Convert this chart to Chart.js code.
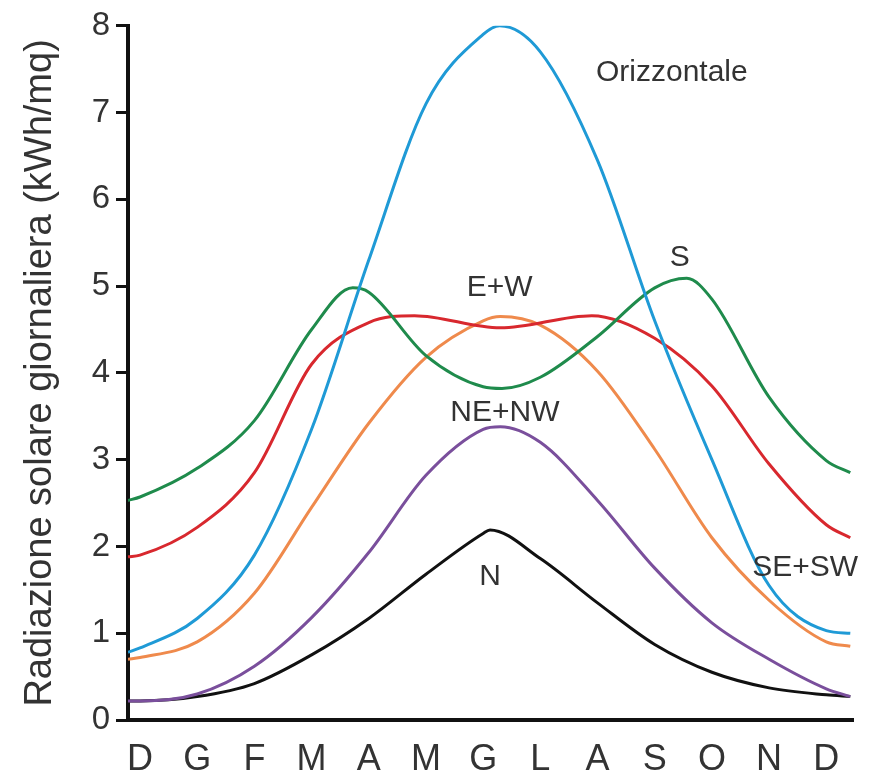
<!DOCTYPE html>
<html>
<head>
<meta charset="utf-8">
<script src="https://cdn.jsdelivr.net/npm/chart.js@4"></script>
<style>
  body { margin: 0; background: #fff; }
  #wrap { width: 885px; height: 784px; }
</style>
</head>
<body>
<div id="wrap"><canvas id="solarChart"></canvas></div>
<script>
// mesi (da dicembre a dicembre)
const months = ['D', 'G', 'F', 'M', 'A', 'M', 'G', 'L', 'A', 'S', 'O', 'N', 'D'];
const yTicks = [0, 1, 2, 3, 4, 5, 6, 7, 8];

// posizione sull'asse dei mesi (0 = D, 12 = D) e valori (kWh/mq)
const xOriz = [-0.21, 0, 1, 2, 3, 4, 5, 6, 6.29, 7, 8, 9, 10, 11, 12, 12.42];
const yOriz = [0.78, 0.83, 1.17, 1.9, 3.35, 5.3, 7.1, 7.9, 8.0, 7.7, 6.45, 4.6, 3.0, 1.55, 1.03, 1.0];

const xS = [-0.21, 0, 1, 2, 3, 3.72, 4, 5, 6, 6.33, 7, 8, 9, 9.56, 10, 11, 12, 12.42];
const yS = [2.53, 2.57, 2.9, 3.45, 4.5, 4.98, 4.93, 4.2, 3.84, 3.82, 3.95, 4.42, 4.98, 5.09, 4.85, 3.72, 2.99, 2.85];

const xSESW = [-0.21, 0, 1, 2, 3, 4, 4.8, 6.3, 7.9, 9, 10, 11, 12, 12.42];
const ySESW = [1.88, 1.9, 2.22, 2.85, 4.1, 4.58, 4.66, 4.52, 4.66, 4.4, 3.85, 2.95, 2.25, 2.1];

const xEW = [-0.21, 0, 1, 2, 3, 4, 5, 6, 6.3, 7, 8, 9, 10, 11, 12, 12.42];
const yEW = [0.7, 0.72, 0.9, 1.46, 2.45, 3.42, 4.18, 4.6, 4.65, 4.55, 4.02, 3.12, 2.1, 1.38, 0.9, 0.85];

const xNENW = [-0.21, 0, 1, 2, 3, 4, 5, 6, 6.3, 7, 8, 9, 10, 11, 12, 12.42];
const yNENW = [0.22, 0.22, 0.3, 0.62, 1.18, 1.93, 2.82, 3.35, 3.38, 3.2, 2.53, 1.75, 1.12, 0.7, 0.36, 0.27];

const xN = [-0.21, 0, 1, 2, 3, 4, 5, 6, 6.12, 7, 8, 9, 10, 11, 12, 12.42];
const yN = [0.22, 0.22, 0.27, 0.42, 0.75, 1.17, 1.68, 2.15, 2.19, 1.86, 1.35, 0.87, 0.55, 0.37, 0.29, 0.27];

const seriesNames = ['Orizzontale', 'S', 'SE+SW', 'E+W', 'NE+NW', 'N'];
const seriesX = [xOriz, xS, xSESW, xEW, xNENW, xN];
const seriesY = [yOriz, yS, ySESW, yEW, yNENW, yN];
const seriesColors = ['#1f9ad6', '#1f8b4c', '#d8282e', '#ef8a4c', '#7a4f9c', '#111111'];

// etichette delle curve (testo, mese, valore)
const curveLabels = [
  ['Orizzontale', 9.3, 7.46],
  ['S', 9.44, 5.33],
  ['E+W', 6.29, 4.98],
  ['NE+NW', 6.38, 3.54],
  ['N', 6.12, 1.65],
  ['SE+SW', 11.63, 1.75]
];

const curveLabelPlugin = {
  id: 'curveLabels',
  afterDatasetsDraw(chart) {
    const { ctx, scales: { x, y } } = chart;
    ctx.save();
    ctx.font = '30px "Liberation Sans", Arial, sans-serif';
    ctx.fillStyle = '#333';
    ctx.textAlign = 'center';
    ctx.textBaseline = 'middle';
    curveLabels.forEach(([txt, mx, my]) => {
      ctx.fillText(txt, x.getPixelForValue(mx), y.getPixelForValue(my));
    });
    ctx.restore();
  }
};

const ctx = document.getElementById('solarChart').getContext('2d');
new Chart(ctx, {
  type: 'line',
  data: {
    datasets: seriesNames.map((name, k) => ({
      label: name,
      data: seriesX[k].map((xv, j) => ({ x: xv, y: seriesY[k][j] })),
      borderColor: seriesColors[k],
      borderWidth: 3,
      pointRadius: 0,
      fill: false,
      cubicInterpolationMode: 'monotone'
    }))
  },
  options: {
    responsive: true,
    maintainAspectRatio: false,
    animation: false,
    layout: { padding: { top: 25, right: 33, left: 0, bottom: 0 } },
    plugins: {
      legend: { display: false },
      tooltip: { enabled: false }
    },
    scales: {
      x: {
        type: 'linear',
        min: -0.21,
        max: 12.45,
        afterBuildTicks: s => { s.ticks = months.map((m, i) => ({ value: i })); },
        afterFit: s => { s.height = 64; },
        ticks: {
          callback: v => months[v],
          autoSkip: false,
          maxRotation: 0,
          padding: 18,
          color: '#333',
          font: { family: '"Liberation Sans", Arial, sans-serif', size: 36 }
        },
        grid: { display: true, drawOnChartArea: false, drawTicks: false, color: '#111', lineWidth: 3 },
        border: { display: true, color: '#111', width: 4 }
      },
      y: {
        min: 0,
        max: 8,
        afterBuildTicks: s => { s.ticks = yTicks.map(v => ({ value: v })); },
        afterFit: s => { s.width = 128; },
        ticks: {
          padding: 6,
          color: '#333',
          font: { family: '"Liberation Sans", Arial, sans-serif', size: 33 }
        },
        grid: { display: true, drawOnChartArea: false, drawTicks: true, tickLength: 12, color: '#111', lineWidth: 3 },
        border: { display: true, color: '#111', width: 4 },
        title: {
          display: true,
          text: 'Radiazione solare giornaliera (kWh/mq)',
          color: '#333',
          padding: { top: 18, bottom: 0 },
          font: { family: '"Liberation Sans", Arial, sans-serif', size: 38 }
        }
      }
    }
  },
  plugins: [curveLabelPlugin]
});
</script>
</body>
</html>
